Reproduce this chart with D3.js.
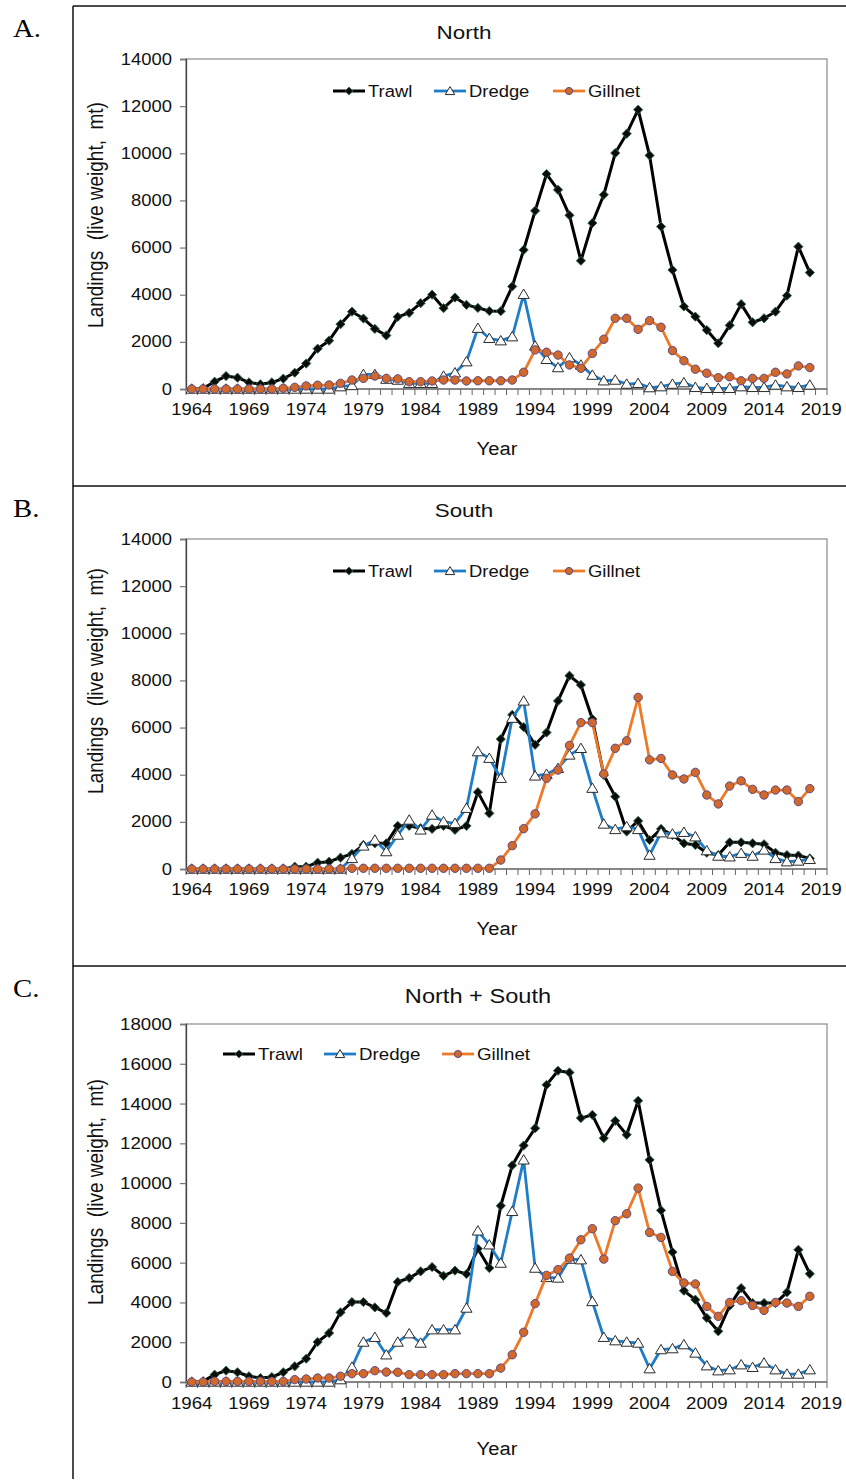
<!DOCTYPE html>
<html><head><meta charset="utf-8">
<script src="https://cdn.jsdelivr.net/npm/d3@7"></script>
<style>
body{margin:0;background:#fff}
svg{display:block}
text{font-family:Arial,"Liberation Sans",sans-serif;fill:#111}
</style>
</head><body>
<svg id="chart" width="846" height="1484"></svg>
<script>
// ---------------- DATA ----------------
const years = [1964,1965,1966,1967,1968,1969,1970,1971,1972,1973,1974,1975,1976,1977,1978,1979,1980,1981,1982,1983,1984,1985,1986,1987,1988,1989,1990,1991,1992,1993,1994,1995,1996,1997,1998,1999,2000,2001,2002,2003,2004,2005,2006,2007,2008,2009,2010,2011,2012,2013,2014,2015,2016,2017,2018];
const axisCategories = [1964,1965,1966,1967,1968,1969,1970,1971,1972,1973,1974,1975,1976,1977,1978,1979,1980,1981,1982,1983,1984,1985,1986,1987,1988,1989,1990,1991,1992,1993,1994,1995,1996,1997,1998,1999,2000,2001,2002,2003,2004,2005,2006,2007,2008,2009,2010,2011,2012,2013,2014,2015,2016,2017,2018,2019];
const xTickLabels = [1964,1969,1974,1979,1984,1989,1994,1999,2004,2009,2014,2019];
const yTicksNorthSouth = [0,2000,4000,6000,8000,10000,12000,14000];
const yTicksTotal = [0,2000,4000,6000,8000,10000,12000,14000,16000,18000];
const seriesNames = ["Trawl","Dredge","Gillnet"];
const panelTitles = ["North","South","North + South"];
const panelLetters = ["A.","B.","C."];

const northTrawl = [0,30,310,550,480,280,200,280,440,690,1080,1710,2050,2750,3280,2990,2550,2270,3060,3230,3640,4000,3430,3880,3570,3440,3310,3300,4350,5900,7560,9120,8450,7370,5440,7040,8240,10010,10830,11850,9910,6890,5050,3500,3070,2500,1940,2700,3600,2830,3000,3280,3960,6040,4940];
const northDredge = [0,0,0,0,0,0,0,0,0,0,0,0,0,100,150,620,620,420,380,240,240,240,550,690,1160,2580,2150,2050,2220,4020,1830,1260,910,1330,1020,590,350,380,210,240,60,100,210,270,70,30,30,30,100,70,70,170,100,70,170];
const northGillnet = [0,0,0,0,0,0,0,0,30,70,130,160,170,240,380,450,550,450,430,310,310,340,380,380,340,350,350,350,380,710,1660,1560,1440,1020,880,1510,2110,3000,3000,2530,2900,2620,1630,1200,840,670,480,520,350,450,450,710,640,980,910];

const southTrawl = [0,0,0,0,0,0,0,0,0,100,100,270,310,480,640,1020,1090,1090,1830,1830,1730,1700,1830,1660,1830,3260,2360,5510,6540,6020,5270,5790,7130,8200,7810,6360,3990,3070,1590,2040,1230,1700,1440,1090,1020,690,590,1130,1130,1090,1050,690,590,570,450];
const southDredge = [0,0,0,0,0,0,0,0,0,0,0,0,0,0,450,980,1230,740,1440,2080,1660,2290,2010,1940,2580,4980,4700,3850,6400,7130,3950,4020,4270,4840,5120,3430,1910,1680,1800,1680,590,1540,1490,1560,1370,780,550,520,670,550,810,450,310,340,410];
const southGillnet = [0,0,0,0,0,0,0,0,0,0,0,0,0,0,30,30,30,30,30,30,30,30,30,30,30,30,30,380,990,1710,2340,3850,4200,5240,6210,6210,4030,5120,5440,7280,4630,4690,3990,3820,4100,3140,2760,3520,3740,3380,3140,3350,3350,2860,3410];

const totalTrawl = [0,30,370,570,490,290,200,250,490,790,1170,2010,2460,3500,4020,4020,3750,3470,5030,5230,5560,5780,5340,5600,5430,6700,5730,8860,10890,11890,12760,14940,15650,15560,13270,13430,12260,13130,12430,14140,11170,8630,6530,4590,4140,3220,2550,3840,4720,3970,3970,3970,4510,6650,5440];
const totalDredge = [0,0,0,0,0,0,0,0,0,0,0,0,0,120,750,2010,2250,1370,2010,2430,1960,2630,2630,2630,3720,7600,6900,5980,8580,11170,5730,5260,5230,6180,6150,4050,2250,2080,2010,1960,670,1630,1680,1880,1460,820,570,620,870,740,960,620,400,400,620];
const totalGillnet = [0,0,30,30,30,30,30,30,30,120,150,200,200,290,420,420,570,500,490,370,370,370,370,420,420,420,420,700,1370,2500,3940,5360,5650,6230,7150,7710,6180,8110,8460,9750,7520,7270,5560,4980,4930,3800,3300,4000,4090,3850,3600,4000,3970,3800,4310];

// ---------------- LAYOUT ----------------
const svg = d3.select("#chart");
const plotLeft = 186, plotRight = 827;

const panels = [
  {letter:panelLetters[0], title:panelTitles[0], series:[northTrawl,northDredge,northGillnet], yTicks:yTicksNorthSouth,
   boxTop:6, plotTop:59, plotBottom:389, titleY:39, legendY:91, yearY:455, yTitleY:215, letterY:37, tickY:415,
   legendX:[333,434,553], fs:16, titleFs:19, stretchF:1.15},
  {letter:panelLetters[1], title:panelTitles[1], series:[southTrawl,southDredge,southGillnet], yTicks:yTicksNorthSouth,
   boxTop:486, plotTop:539, plotBottom:869, titleY:517, legendY:571, yearY:935, yTitleY:681, letterY:517, tickY:895,
   legendX:[333,434,553], fs:16, titleFs:19, stretchF:1.15},
  {letter:panelLetters[2], title:panelTitles[2], series:[totalTrawl,totalDredge,totalGillnet], yTicks:yTicksTotal,
   boxTop:966, plotTop:1024, plotBottom:1382, titleY:1003, legendY:1054, yearY:1455, yTitleY:1192, letterY:997, tickY:1409,
   legendX:[223,324,442], fs:17, titleFs:20, stretchF:1.1}
];

const styles = [
  {color:"#000000", width:3, marker:"diamond"},
  {color:"#1f7cc6", width:2.8, marker:"triangle"},
  {color:"#ec7a28", width:2.8, marker:"circle"}
];

function stretch(sel, f){
  sel.each(function(){
    const L = this.getComputedTextLength();
    this.setAttribute("textLength", L*f);
    this.setAttribute("lengthAdjust","spacingAndGlyphs");
  });
}

function drawMarker(g, type, cx, cy, scale){
  scale = scale || 1;
  if(type==="diamond"){
    const s = 4.6*scale;
    g.append("path").attr("d",`M${cx},${cy-s}L${cx+s},${cy}L${cx},${cy+s}L${cx-s},${cy}Z`)
      .attr("fill","#0b0b0b").attr("stroke","#2d6a44").attr("stroke-width",0.9);
  } else if(type==="triangle"){
    const w = 5.6*scale, h1 = 5.2*scale, h2 = 4.2*scale;
    g.append("path").attr("d",`M${cx},${cy-h1}L${cx+w},${cy+h2}L${cx-w},${cy+h2}Z`)
      .attr("fill","#ffffff").attr("stroke","#2a2a2a").attr("stroke-width",1);
  } else {
    g.append("circle").attr("cx",cx).attr("cy",cy).attr("r",4.2*scale)
      .attr("fill","#d2682a").attr("stroke","#5c4a86").attr("stroke-width",1);
  }
}

// outer frame lines
svg.append("line").attr("x1",73).attr("x2",73).attr("y1",6).attr("y2",1479).attr("stroke","#111").attr("stroke-width",1.5);
[6,486,966].forEach(yy=>{
  svg.append("line").attr("x1",73).attr("x2",846).attr("y1",yy).attr("y2",yy).attr("stroke","#111").attr("stroke-width",1.5);
});

panels.forEach(p=>{
  const g = svg.append("g");
  const x = d3.scaleBand().domain(axisCategories).range([plotLeft, plotRight]).padding(0);
  const bw = x.bandwidth();
  const yMax = p.yTicks[p.yTicks.length-1];
  const y = d3.scaleLinear().domain([0, yMax]).range([p.plotBottom, p.plotTop]);

  // letter
  g.append("text").attr("x",13).attr("y",p.letterY).text(p.letter)
    .style("font-family","'Liberation Serif','Times New Roman',serif").style("font-size","25px").style("fill","#000")
    .call(stretch, 1.15);

  // title
  g.append("text").attr("x",(p.title==="North + South")?478:464).attr("y",p.titleY).attr("text-anchor","middle")
    .style("font-size",p.titleFs+"px").text(p.title).call(stretch, 1.18);

  // plot frame
  g.append("rect").attr("x",plotLeft).attr("y",p.plotTop).attr("width",plotRight-plotLeft).attr("height",p.plotBottom-p.plotTop)
    .attr("fill","none").attr("stroke","#8a8a8a").attr("stroke-width",1.2);

  // y axis
  const yAxis = d3.axisLeft(y).tickValues(p.yTicks).tickSize(6).tickPadding(8).tickFormat(d3.format("d"));
  const ya = g.append("g").attr("transform",`translate(${plotLeft},0)`).call(yAxis);
  ya.select(".domain").attr("stroke","#444").attr("stroke-width",1.3);
  ya.selectAll(".tick line").attr("stroke","#777").attr("stroke-width",1.2);
  ya.selectAll(".tick text").style("font-size",p.fs+"px").style("font-family","Arial,'Liberation Sans',sans-serif").attr("fill","#111")
    .call(stretch, p.stretchF);

  // x axis: category boundary ticks + labels every 5 years
  const xa = g.append("g").attr("transform",`translate(0,${p.plotBottom})`);
  xa.append("line").attr("x1",plotLeft).attr("x2",plotRight).attr("y1",0).attr("y2",0).attr("stroke","#777").attr("stroke-width",1.3);
  axisCategories.forEach(c=>{
    xa.append("line").attr("x1",x(c)).attr("x2",x(c)).attr("y1",0).attr("y2",6).attr("stroke","#666").attr("stroke-width",1);
  });
  xa.append("line").attr("x1",plotRight).attr("x2",plotRight).attr("y1",0).attr("y2",6).attr("stroke","#666").attr("stroke-width",1);
  g.append("g").selectAll("text").data(xTickLabels).join("text")
    .attr("x",d=>x(d)+bw/2).attr("y",p.tickY).attr("text-anchor","middle")
    .style("font-size",p.fs+"px").text(d=>d).call(stretch, p.stretchF);

  // axis titles
  g.append("text").attr("x",497).attr("y",p.yearY).attr("text-anchor","middle").style("font-size","18px").text("Year")
    .call(stretch, 1.12);
  g.append("text").attr("transform",`translate(96,${p.yTitleY}) scale(1.12,1) rotate(-90)`).attr("text-anchor","middle")
    .attr("dy","0.35em").style("font-size","19px").text("Landings  (live weight,  mt)").style("white-space","pre")
    .attr("xml:space","preserve");

  // series
  p.series.forEach((vals, i)=>{
    const st = styles[i];
    const pts = years.map((yr, k)=>({year:yr, v:vals[k]}));
    const line = d3.line().x(d=>x(d.year)+bw/2).y(d=>y(d.v));
    const sg = g.append("g");
    sg.append("path").datum(pts).attr("d",line).attr("fill","none").attr("stroke",st.color)
      .attr("stroke-width",st.width).attr("stroke-linejoin","round");
    pts.forEach(d=>drawMarker(sg, st.marker, x(d.year)+bw/2, y(d.v)));
  });

  // legend
  seriesNames.forEach((name, i)=>{
    const st = styles[i];
    const lx = p.legendX[i];
    const lg = g.append("g");
    lg.append("line").attr("x1",lx).attr("x2",lx+32).attr("y1",p.legendY).attr("y2",p.legendY)
      .attr("stroke",st.color).attr("stroke-width",st.width);
    drawMarker(lg, st.marker, lx+16, p.legendY, 0.85);
    lg.append("text").attr("x",lx+35).attr("y",p.legendY).attr("dy","0.36em").style("font-size",p.fs+"px").text(name)
      .call(stretch, p.stretchF);
  });
});
</script>
</body></html>
